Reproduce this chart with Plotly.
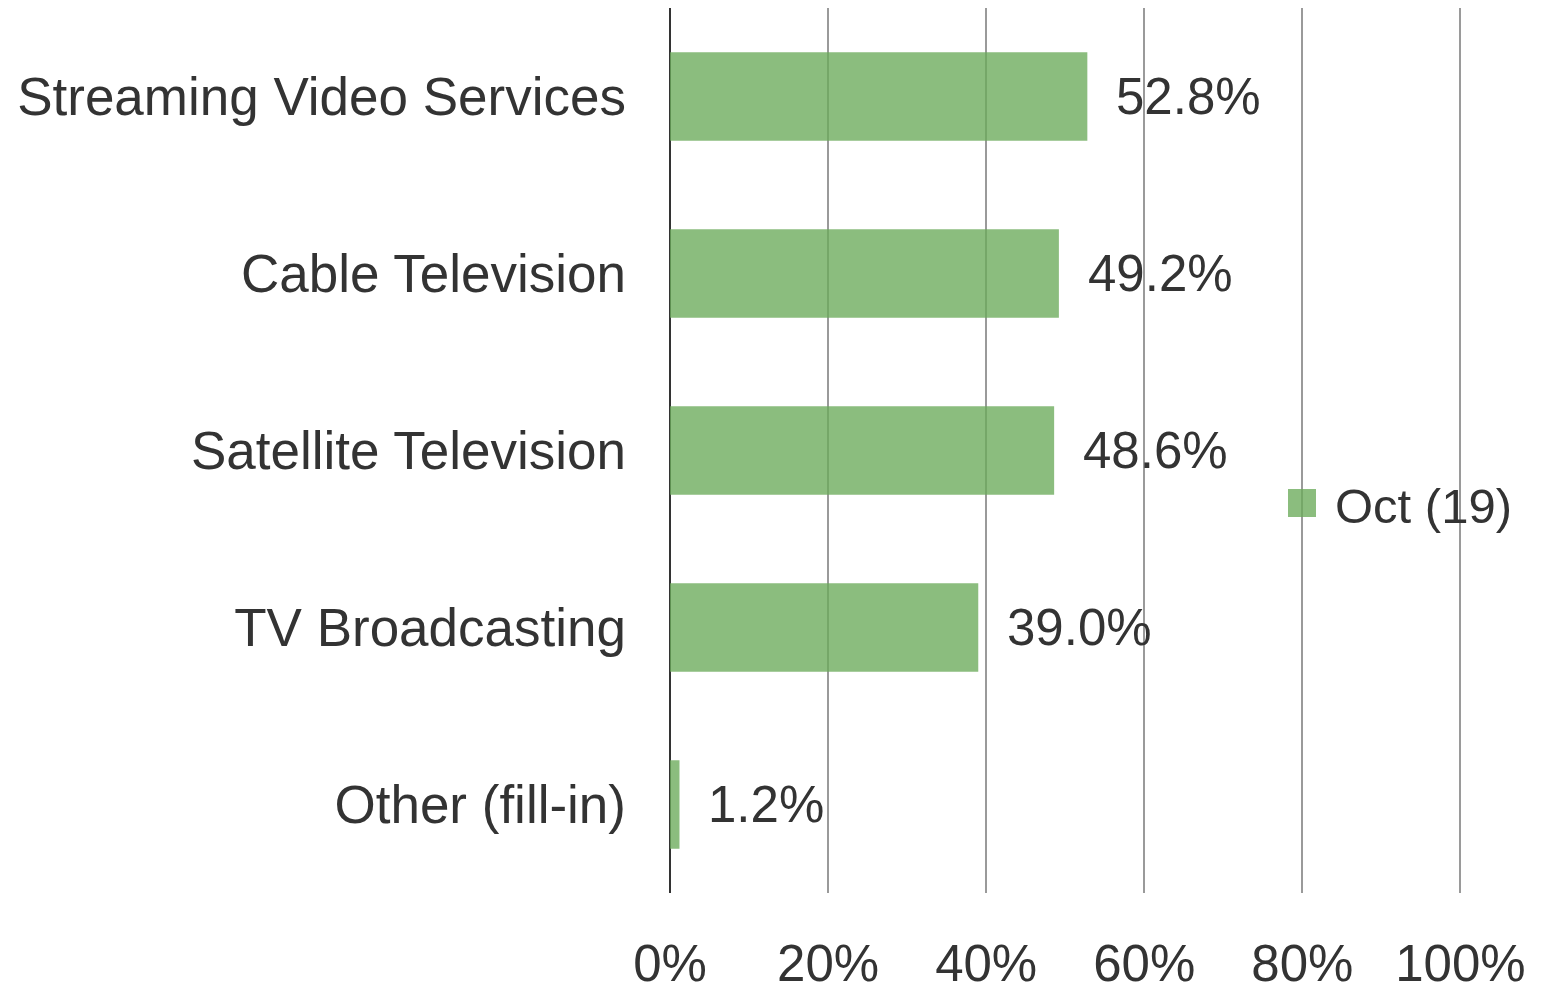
import plotly.graph_objects as go

categories = ["Streaming Video Services", "Cable Television", "Satellite Television",
              "TV Broadcasting", "Other (fill-in)"]
values = [0.528, 0.492, 0.486, 0.390, 0.012]
series_name = "Oct (19)"
x_ticks = [0, 0.2, 0.4, 0.6, 0.8, 1.0]
x_tick_labels = ["0%", "20%", "40%", "60%", "80%", "100%"]

FONT = "Liberation Sans"
TXT = "#333333"
BAR = "rgba(106,170,90,0.78)"

# page body has an 8px margin; plot area should span x 670..1462, y 8..893
OFF = 8
PL, PR, PT, PB = 670, 1462, 8, 893
W, H = 1545, 986

fig = go.Figure()
fig.add_trace(go.Bar(
    y=categories, x=values, orientation="h", name=series_name,
    marker=dict(color=BAR, line=dict(width=0)), showlegend=False,
))

for c, v in zip(categories, values):
    fig.add_annotation(x=v, y=c, xref="x", yref="y", text=f"{v*100:.1f}%",
                       showarrow=False, xanchor="left", xshift=27,
                       font=dict(family=FONT, size=51, color=TXT))

pw, ph = PR - PL, PB - PT
fig.add_shape(type="rect", xref="paper", yref="paper",
              x0=(1288 - PL) / pw, x1=(1316 - PL) / pw,
              y0=(PB - 517) / ph, y1=(PB - 489) / ph,
              fillcolor=BAR, line=dict(width=0), layer="above")
fig.add_annotation(x=(1333 - PL) / pw, y=(PB - 506) / ph, xref="paper", yref="paper",
                   text=series_name, showarrow=False, xanchor="left", yanchor="middle",
                   font=dict(family=FONT, size=49, color=TXT))

fig.update_layout(
    width=W, height=H,
    margin=dict(l=PL - OFF, r=W + OFF - PR, t=PT - OFF, b=H + OFF - PB, pad=0),
    paper_bgcolor="white", plot_bgcolor="white",
    bargap=0.5,
    font=dict(family=FONT, size=50, color=TXT),
)
fig.update_xaxes(range=[0, 1.002], tickvals=x_ticks, ticktext=x_tick_labels,
                 showgrid=True, gridcolor="#9a9a9a", gridwidth=2,
                 zeroline=True, zerolinecolor="#333333", zerolinewidth=2,
                 showline=False, ticks="", ticklabelstandoff=36, automargin=False,
                 tickfont=dict(family=FONT, size=51, color=TXT))
fig.update_yaxes(categoryorder="array", categoryarray=categories, autorange="reversed",
                 showgrid=False, zeroline=False, showline=False, ticks="",
                 ticklabelstandoff=43, automargin=False,
                 tickfont=dict(family=FONT, size=53, color=TXT))

fig.write_html("out.html")
